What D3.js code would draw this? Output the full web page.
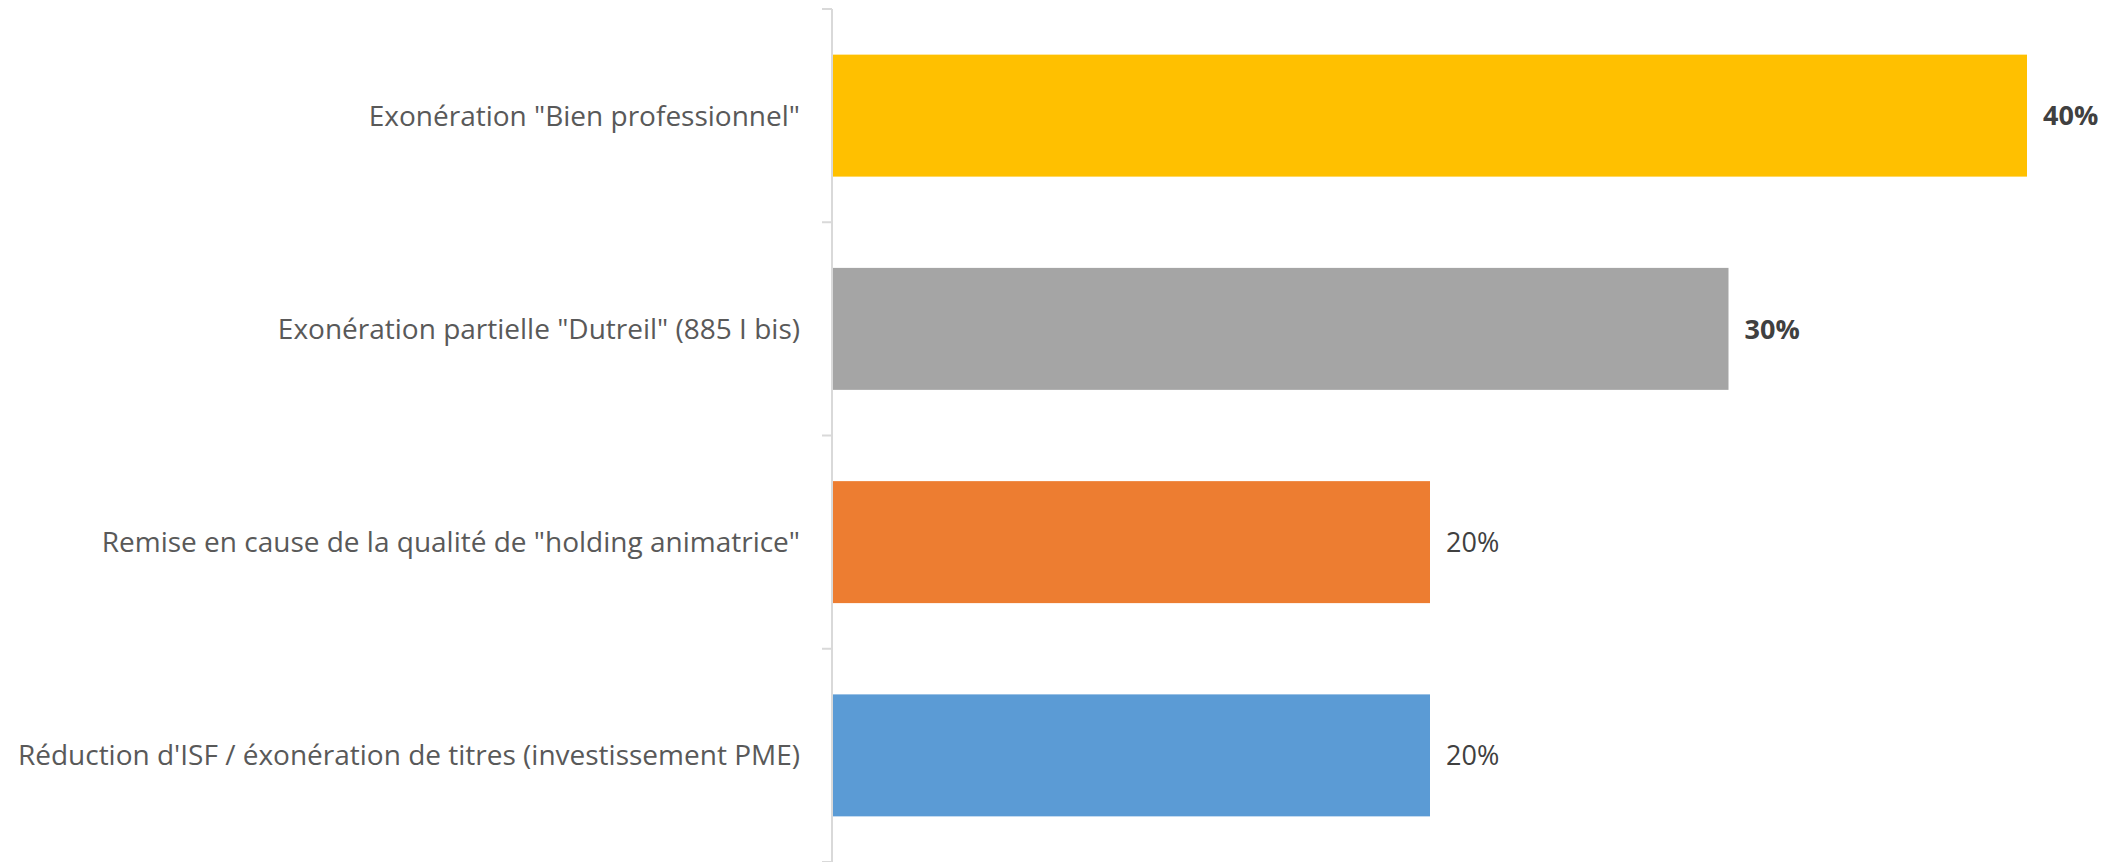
<!DOCTYPE html>
<html>
<head>
<meta charset="utf-8">
<script src="https://cdn.jsdelivr.net/npm/d3@7"></script>
<style>
  html, body { margin: 0; padding: 0; background: #ffffff; }
  svg { display: block; }
</style>
</head>
<body>
<svg id="chart" width="2116" height="862"></svg>
<script>
// Categories, top to bottom
const categories = [
  'Exonération "Bien professionnel"',
  'Exonération partielle "Dutreil" (885 I bis)',
  'Remise en cause de la qualité de "holding animatrice"',
  "Réduction d'ISF / éxonération de titres (investissement PME)"
];
// Share of respondents
const values = [0.40, 0.30, 0.20, 0.20];
const valueLabels = ["40%", "30%", "20%", "20%"];
const boldLabel = [true, true, false, false];
const colors = ["#FFC000", "#A5A5A5", "#ED7D31", "#5B9BD5"];

const svg = d3.select("#chart");
const W = 2116, H = 862;
const axisX = 832;

const x = d3.scaleLinear().domain([0, 0.40]).range([axisX + 1, 2027]);

const pad = 0.428;
const y = d3.scaleBand()
  .domain(categories)
  .range([9, H])
  .paddingInner(pad)
  .paddingOuter(pad / 2);

// Category axis: vertical line with ticks between categories
const step = y.step();
const boundaries = categories.map(c => y(c) - step * pad / 2);
boundaries.push(boundaries[boundaries.length - 1] + step);

const axis = svg.append("g").attr("class", "axis");
axis.append("line")
  .attr("x1", axisX).attr("x2", axisX)
  .attr("y1", boundaries[0]).attr("y2", H)
  .attr("stroke", "#d9d9d9").attr("stroke-width", 2);
axis.selectAll("line.tick")
  .data(boundaries)
  .join("line")
  .attr("class", "tick")
  .attr("x1", axisX - 10).attr("x2", axisX)
  .attr("y1", d => d).attr("y2", d => d)
  .attr("stroke", "#d9d9d9").attr("stroke-width", 2);

// Bars
svg.append("g").selectAll("rect")
  .data(categories)
  .join("rect")
  .attr("x", x(0))
  .attr("y", d => y(d))
  .attr("width", (d, i) => x(values[i]) - x(0))
  .attr("height", y.bandwidth())
  .attr("fill", (d, i) => colors[i]);

// Category labels
const labelRight = 800;
svg.append("g").selectAll("text")
  .data(categories)
  .join("text")
  .attr("x", labelRight)
  .attr("y", d => y(d) + y.bandwidth() / 2)
  .attr("text-anchor", "end")
  .attr("dy", "0.36em")
  .attr("font-family", "'Open Sans', sans-serif")
  .attr("font-size", 28)
  .attr("fill", "#595959")
  .text(d => d);

// Value labels
svg.append("g").selectAll("text")
  .data(categories)
  .join("text")
  .attr("x", (d, i) => x(values[i]) + 16)
  .attr("y", d => y(d) + y.bandwidth() / 2)
  .attr("dy", "0.36em")
  .attr("font-family", "'Open Sans', sans-serif")
  .attr("font-size", 27)
  .attr("font-weight", (d, i) => boldLabel[i] ? 700 : 400)
  .attr("fill", "#404040")
  .text((d, i) => valueLabels[i]);
</script>
</body>
</html>
